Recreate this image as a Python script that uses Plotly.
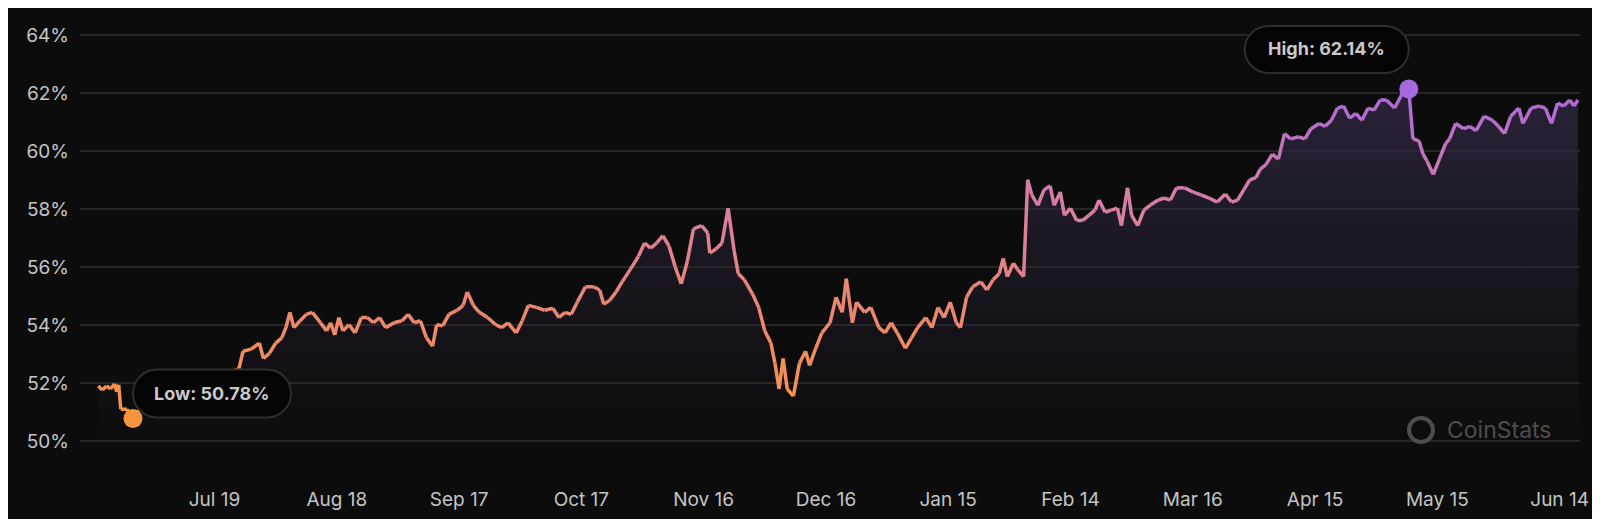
import plotly.graph_objects as go
import pandas as pd
import numpy as np

start_date = "2024-06-13"
day_offsets = [7.5,8.5,9.5,10.5,11.5,12,12.5,13,14.5,16,17,20,25,30,35,39,42,43,45,47,48,49.5,51,52.5,53.5,54.5,55.5,57,58.5,60,62,63.5,64.5,65.5,66.5,67.5,69,70.5,72,73.5,75,76.5,78,80,82,83.5,85,86.5,88,89.5,90.5,92,93.5,95.5,97,98,99.5,101,103,105,106.5,108,110,111.5,113,115,117,119,120.5,122,123.5,125,127,129,130.5,131.5,133,134.5,136,138,140,141.5,143,144.5,146,147.5,149,150.5,152,153.5,155.5,157,157.5,159,160.5,162,163.5,164.5,166,168,169.5,171,172.5,173.5,174.5,175.5,176.5,178,179.5,181,182,183.5,185,187,188.5,190,191,192.5,193.5,195.5,197,199,200.5,202,203.5,205.5,207,208.5,210.5,212,213.5,215,216.5,218,219,220.5,222,224,225.5,227,228.5,229.5,230.5,232,233,234.5,235.5,236.5,238,239.5,241,242,243.5,244.5,246,247.5,249,250.5,252,253,254.5,256,257.5,258.5,260,261,262.5,264,265.5,267.5,269,270.5,272,274,276,278,280,282,284,285.5,287,288.5,290,291.5,292.5,294,295.5,297,298.5,300,302,303.5,305,307,308.5,310,311.5,313,314.5,316,317.5,319,320.5,322,323.5,325.5,327.5,329,330,331.5,332.5,333.5,335,336.5,338,339,340.5,342.5,344,345.5,347.5,349.5,351,352.5,354,356,357,359,361,362.5,364,365.5,367,368.5,369.5,370.5]
dominance = [51.90,51.76,51.90,51.80,51.97,51.70,51.94,51.10,51.10,50.78,51.0,51.3,51.5,51.8,52.0,52.3,52.50,53.10,53.17,53.38,52.85,53.03,53.38,53.56,53.91,54.44,53.91,54.15,54.37,54.44,54.08,53.80,54.08,53.66,54.26,53.80,54.01,53.73,54.26,54.26,54.08,54.26,53.91,54.08,54.15,54.37,54.08,54.15,53.56,53.27,54.01,53.98,54.37,54.51,54.68,55.14,54.68,54.44,54.26,54.01,53.91,54.08,53.73,54.15,54.68,54.61,54.51,54.58,54.26,54.44,54.37,54.79,55.32,55.32,55.21,54.72,54.86,55.14,55.49,55.92,56.37,56.83,56.65,56.83,57.08,56.73,56.02,55.42,56.20,57.32,57.43,57.18,56.48,56.62,56.83,58.03,56.55,55.77,55.56,55.07,54.61,53.80,53.38,52.68,51.80,52.85,51.80,51.55,52.68,53.10,52.61,53.20,53.73,54.08,54.96,54.44,55.60,54.08,54.79,54.44,54.61,53.91,53.73,54.08,53.73,53.20,53.56,53.91,54.26,53.91,54.61,54.26,54.79,54.08,53.91,54.96,55.32,55.49,55.21,55.56,55.77,56.30,55.67,56.13,55.92,55.67,59.01,58.49,58.13,58.66,58.80,58.13,58.59,57.78,58.03,57.61,57.61,57.78,57.96,58.31,57.89,57.96,58.03,57.43,58.73,57.78,57.43,57.96,58.13,58.31,58.38,58.31,58.73,58.73,58.59,58.49,58.38,58.24,58.52,58.24,58.31,58.66,59.01,59.08,59.37,59.54,59.89,59.72,60.60,60.42,60.49,60.42,60.77,60.95,60.85,61.06,61.48,61.55,61.13,61.30,61.06,61.48,61.41,61.76,61.76,61.48,62.01,62.14,60.42,60.35,59.89,59.65,59.19,59.72,60.25,60.42,60.95,60.77,60.85,60.70,61.20,61.06,60.85,60.60,61.20,61.48,60.95,61.48,61.55,61.48,60.95,61.65,61.55,61.76,61.55,61.76]
y_ticks = [50,52,54,56,58,60,62,64]
x_tick_labels = ["Jul 19","Aug 18","Sep 17","Oct 17","Nov 16","Dec 16","Jan 15","Feb 14","Mar 16","Apr 15","May 15","Jun 14"]
x_tick_dates = ["2024-07-19","2024-08-18","2024-09-17","2024-10-17","2024-11-16","2024-12-16","2025-01-15","2025-02-14","2025-03-16","2025-04-15","2025-05-15","2025-06-14"]

t0 = pd.Timestamp(start_date)
dates = [t0 + pd.Timedelta(days=d) for d in day_offsets]
vals = np.array(dominance)

stops = [(50.5,(248,150,66)),(55,(232,134,118)),(58.5,(212,126,168)),(62.2,(168,104,218))]
def col(v):
    for (a,ca),(b,cb) in zip(stops[:-1],stops[1:]):
        if v <= b:
            f = max(0,min(1,(v-a)/(b-a)))
            c = [round(ca[i]+(cb[i]-ca[i])*f) for i in range(3)]
            return f"rgb({c[0]},{c[1]},{c[2]})"
    c = stops[-1][1]
    return f"rgb({c[0]},{c[1]},{c[2]})"

def pill(x0, x1, y0, y1):
    r = (y1 - y0) / 2
    k = r * 0.45
    return (f"M {x0+r} {y0} L {x1-r} {y0} C {x1-k} {y0} {x1} {y0+k} {x1} {y0+r} "
            f"C {x1} {y1-k} {x1-k} {y1} {x1-r} {y1} L {x0+r} {y1} "
            f"C {x0+k} {y1} {x0} {y1-k} {x0} {y1-r} C {x0} {y0+k} {x0+k} {y0} {x0+r} {y0} Z")

fig = go.Figure()
fig.add_trace(go.Scatter(x=dates, y=vals, mode="lines", line=dict(width=0), fill="tozeroy",
    fillgradient=dict(type="vertical", colorscale=[[0,"rgba(30,28,36,0.0)"],[0.8,"rgba(40,34,52,0.0)"],[1,"rgba(50,40,68,0.8)"]]),
    hoverinfo="skip", showlegend=False))
for i in range(len(vals)-1):
    fig.add_trace(go.Scatter(x=dates[i:i+2], y=vals[i:i+2], mode="lines",
        line=dict(color=col((vals[i]+vals[i+1])/2), width=3.5), hoverinfo="skip", showlegend=False))

lo = int(np.argmin(vals)); hi = int(np.argmax(vals))

fig.add_shape(type="path", xref="x", yref="y", xsizemode="pixel", ysizemode="pixel",
    xanchor=dates[lo], yanchor=vals[lo], path=pill(0, 158, 1, 49),
    fillcolor="#040404", line=dict(color="#2e2e2e", width=2), layer="above")
fig.add_shape(type="path", xref="x", yref="y", xsizemode="pixel", ysizemode="pixel",
    xanchor=dates[hi], yanchor=vals[hi], path=pill(-164, 0, 16, 63),
    fillcolor="#040404", line=dict(color="#2e2e2e", width=2), layer="above")

fig.add_trace(go.Scatter(x=[dates[lo]], y=[vals[lo]], mode="markers", marker=dict(size=19, color="#f7943f"), showlegend=False))
fig.add_trace(go.Scatter(x=[dates[hi]], y=[vals[hi]], mode="markers", marker=dict(size=19, color="#a66ae0"), showlegend=False))

fig.add_annotation(x=dates[lo], y=vals[lo], text=f"<b>Low: {vals[lo]:.2f}%</b>", showarrow=False,
    xanchor="center", xshift=79, yshift=25, font=dict(size=18, color="#c9c9c9", family="Inter"))
fig.add_annotation(x=dates[hi], y=vals[hi], text=f"<b>High: {vals[hi]:.2f}%</b>", showarrow=False,
    xanchor="center", xshift=-82, yshift=40, font=dict(size=18, color="#c9c9c9", family="Inter"))
fig.add_annotation(xref="paper", yref="paper", x=0.91, y=0.0705, xanchor="left", yanchor="middle", showarrow=False,
    text="CoinStats", font=dict(size=23, color="#4d4d4d", family="Inter"))
fig.add_shape(type="circle", xref="paper", yref="paper", xsizemode="pixel", ysizemode="pixel",
    xanchor=0.894, yanchor=0.0705, x0=-12, x1=12, y0=-12, y1=12, line=dict(color="#4d4d4d", width=4))
fig.add_shape(type="path", xref="paper", yref="paper", xsizemode="pixel", ysizemode="pixel",
    xanchor=0.894, yanchor=0.0705, path="M 0 0 L 0 9 A 9 9 0 0 0 9 0 Z", fillcolor="#4d4d4d", line=dict(width=0))

fig.update_layout(width=1600, height=519, paper_bgcolor="#0c0c0c", plot_bgcolor="#0c0c0c",
    margin=dict(l=72, r=28, t=0, b=65),
    xaxis=dict(range=[t0+pd.Timedelta(days=3), t0+pd.Timedelta(days=371)], tickvals=x_tick_dates, ticktext=x_tick_labels,
        showgrid=False, zeroline=False, showline=False, ticklabelstandoff=24,
        tickfont=dict(size=19, color="#c4c4c4", family="Inter")),
    yaxis=dict(range=[49.28, 64.93], tickvals=y_ticks, ticktext=[f"{v}%" for v in y_ticks],
        gridcolor="#262626", gridwidth=1.5, zeroline=False, showline=False, ticklabelstandoff=10,
        tickfont=dict(size=19, color="#c4c4c4", family="Inter")))
fig.write_html("out.html")
